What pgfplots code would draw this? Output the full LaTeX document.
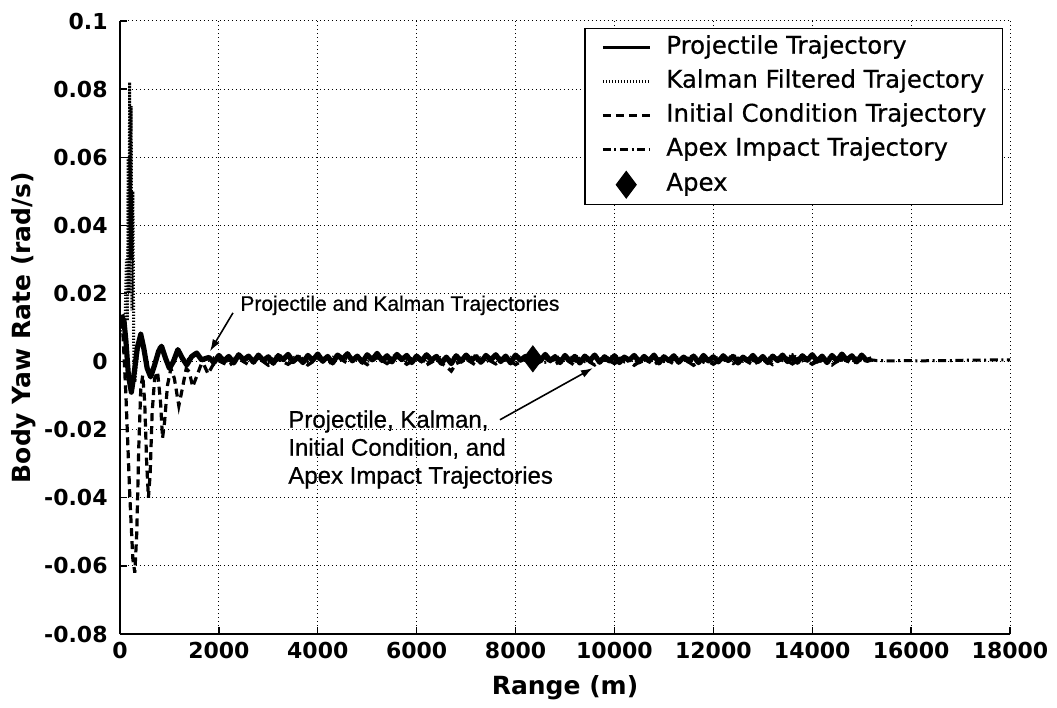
\documentclass[border=0pt]{standalone}
\usepackage{fontspec}
\setmainfont{DejaVu Sans}
\newfontfamily\legfamily[FakeBold=0.6]{DejaVu Sans}
\newfontfamily\annfont[FakeBold=0.6]{Liberation Sans}
\usepackage{pgfplots}
\pgfplotsset{compat=1.18}
\usetikzlibrary{arrows.meta}

\newcommand\tickfont{\fontsize{11bp}{13bp}\selectfont\bfseries}
\newcommand\labfont{\fontsize{12.5bp}{15bp}\selectfont\bfseries}
\newcommand\legfont{\legfamily\fontsize{12.2bp}{14bp}\selectfont}
\newcommand\noteonefont{\annfont\fontsize{10.5bp}{14bp}\selectfont}
\newcommand\notetwofont{\annfont\fontsize{12bp}{14bp}\selectfont}

% legend sample showing a single centred mark
\pgfplotsset{mark legend/.style={legend image code/.code={\draw[##1] plot coordinates {(11.75bp,0bp)};}}}
% legend sample drawn thinner than the plotted line
\pgfplotsset{thin legend/.style={legend image code/.code={\draw[##1, line width=1.5bp] (0bp,0bp) -- (23.5bp,0bp);}}}

\begin{document}
\begin{tikzpicture}
\begin{axis}[
  at={(0,0)}, anchor=south west,
  scale only axis, width=445bp, height=306.5bp,
  xmin=0, xmax=18000, ymin=-0.08, ymax=0.1,
  axis x line*=bottom, axis y line*=left,
  axis line style={-, line width=0.9bp, black},
  scaled x ticks=false, scaled y ticks=false,
  xtick={0,2000,...,18000},
  xticklabels={0,2000,4000,6000,8000,10000,12000,14000,16000,18000},
  ytick={-0.08,-0.06,-0.04,-0.02,0,0.02,0.04,0.06,0.08,0.1},
  yticklabels={-0.08,-0.06,-0.04,-0.02,0,0.02,0.04,0.06,0.08,0.1},
  ticklabel style={font=\tickfont, inner sep=0pt},
  xticklabel shift=4bp, yticklabel shift=6bp,
  tick align=inside, major tick length=3.5bp,
  tick style={black, line width=0.7bp},
  grid=major,
  major grid style={black, line width=0.5bp, dash pattern=on 0.5bp off 1.5bp},
  xlabel={Range (m)}, ylabel={Body Yaw Rate (rad/s)},
  xlabel style={font=\labfont, at={(axis description cs:0.5,0)}, anchor=center, yshift=-27bp},
  ylabel style={font=\labfont, at={(axis description cs:-0.108,0.5)}, anchor=center},
  legend style={at={(1,1)}, anchor=north east, xshift=-3.5bp, yshift=-3.5bp,
    draw=black, line width=0.7bp, fill=white, font=\legfont,
    inner xsep=8bp, inner ysep=3.5bp, row sep=5bp, column sep=7.5bp,
    nodes={inner sep=0pt, text height=9bp, text depth=3bp}},
  legend cell align=left,
  legend image code/.code={\draw[#1] (0bp,0bp) -- (23.5bp,0bp);},
]

% projectile trajectory
\addplot[black, line width=2.6bp, line join=round, thin legend] coordinates {
(0,0.010) (40,0.013) (80,0.012) (120,0.006) (170,-0.004) (230,-0.009) (290,-0.003)
(350,0.004) (420,0.008) (480,0.004) (550,-0.002) (620,-0.0045) (700,-0.001)
(780,0.003) (840,0.0045) (920,0.001) (1000,-0.002) (1080,0.0) (1170,0.0035)
(1260,0.001) (1350,-0.001) (1450,0.0015) (1550,0.0025) (1650,0.0005) (1750,0.001)
(1800,0.0012) (1900,-0.0003) (2000,0.0018) (2100,0.0002) (2200,0.0015) (2300,-0.0004)
(2400,0.0020) (2500,0.0005) (2600,0.0016) (2700,-0.0002) (2800,0.0019) (2900,0.0003)
(3000,0.0014) (3100,-0.0005) (3200,0.0017) (3300,0.0006) (3400,0.0021) (3500,0.0000)
(3600,0.0013) (3700,-0.0003) (3800,0.0018) (3900,0.0004) (4000,0.0022) (4100,0.0001)
(4200,0.0015) (4300,-0.0004) (4400,0.0019) (4500,0.0007) (4600,0.0023) (4700,0.0002)
(4800,0.0016) (4900,-0.0002) (5000,0.0020) (5100,0.0005) (5200,0.0024) (5300,0.0003)
(5400,0.0017) (5500,-0.0001) (5600,0.0021) (5700,0.0006) (5800,0.0018) (5900,-0.0003)
(6000,0.0016) (6100,0.0002) (6200,0.0020) (6300,0.0004) (6400,0.0015) (6500,-0.0005)
(6600,0.0013) (6700,-0.0006) (6800,0.0017) (6900,0.0001) (7000,0.0019) (7100,0.0003)
(7200,0.0014) (7300,-0.0002) (7400,0.0018) (7500,0.0005) (7600,0.0020) (7700,0.0000)
(7800,0.0016) (7900,-0.0004) (8000,0.0019) (8100,0.0004) (8200,0.0015) (8300,-0.0001)
(8400,0.0017) (8500,0.0002) (8600,0.0021) (8700,0.0003) (8800,0.0014) (8900,-0.0003)
(9000,0.0018) (9100,0.0001) (9200,0.0015) (9300,-0.0004) (9400,0.0016) (9500,0.0003)
(9600,0.0019) (9700,-0.0002) (9800,0.0014) (9900,0.0002) (10000,0.0017) (10100,-0.0003)
(10200,0.0013) (10300,0.0004) (10400,0.0018) (10500,-0.0001) (10600,0.0015) (10700,0.0002)
(10800,0.0019) (10900,-0.0004) (11000,0.0014) (11100,0.0003) (11200,0.0017) (11300,-0.0002)
(11400,0.0013) (11500,0.0001) (11600,0.0016) (11700,-0.0003) (11800,0.0018) (11900,0.0002)
(12000,0.0014) (12100,-0.0001) (12200,0.0017) (12300,0.0003) (12400,0.0015) (12500,-0.0004)
(12600,0.0013) (12700,0.0002) (12800,0.0018) (12900,0.0000) (13000,0.0015) (13100,-0.0003)
(13200,0.0016) (13300,0.0003) (13400,0.0019) (13500,0.0000) (13600,0.0014) (13700,-0.0002)
(13800,0.0017) (13900,0.0004) (14000,0.0020) (14100,0.0001) (14200,0.0016) (14300,-0.0003)
(14400,0.0018) (14500,0.0002) (14600,0.0022) (14700,0.0004) (14800,0.0017) (14900,-0.0001)
(15000,0.0019) (15100,0.0003) (15200,0.0008)
};
\addlegendentry{Projectile Trajectory}

% Kalman filtered trajectory
\addplot[black, line width=1.5bp, dash pattern=on 0.6bp off 0.9bp] coordinates {
(0,0.008) (60,0.014) (100,0.010) (130,0.030) (150,0.012) (165,0.060) (180,0.020)
(195,0.082) (210,0.030) (225,0.075) (240,0.015) (260,0.050) (280,0.000) (300,-0.006)
(360,0.003) (420,0.007) (490,0.003) (560,-0.003) (630,-0.004) (710,0.000) (790,0.004)
(860,0.004) (940,0.000) (1020,-0.0015) (1100,0.001) (1190,0.003) (1300,0.000)
(1420,0.001) (1560,0.0022) (1680,0.0004) (1800,0.0008) (2000,0.0015) (2200,-0.0002)
(2400,0.0019) (2600,0.0004) (2800,0.0016) (3000,-0.0003) (3200,0.0020) (3400,0.0005)
(3600,0.0017) (3800,0.0000) (4000,0.0018) (4200,0.0003) (4400,0.0021) (4600,0.0006)
(4800,0.0015) (5000,-0.0001) (5200,0.0019) (5400,0.0004) (5600,0.0022) (5800,0.0002)
(6000,0.0016) (6200,-0.0002) (6400,0.0018) (6600,0.0001) (6800,0.0015) (7000,0.0003)
(7200,0.0019) (7400,-0.0001) (7600,0.0016) (7800,0.0004) (8000,0.0020) (8200,0.0002)
(8400,0.0015) (8600,-0.0002) (8800,0.0017) (9000,0.0003) (9200,0.0018) (9400,0.0000)
(9600,0.0015) (9800,0.0004) (10000,0.0019) (10200,-0.0001) (10400,0.0016) (10600,0.0003)
(10800,0.0017) (11000,0.0000) (11200,0.0015) (11400,0.0004) (11600,0.0018) (11800,-0.0002)
(12000,0.0016) (12200,0.0002) (12400,0.0019) (12600,0.0001) (12800,0.0015) (13000,-0.0001)
(13200,0.0017) (13400,0.0003) (13600,0.0020) (13800,0.0002) (14000,0.0016) (14200,-0.0001)
(14400,0.0018) (14600,0.0004) (14800,0.0017) (15000,0.0002) (15200,0.0009)
};
\addlegendentry{Kalman Filtered Trajectory\hspace{3.5bp}}

% initial condition trajectory
\addplot[black, line width=1.6bp, dash pattern=on 4bp off 2.5bp] coordinates {
(0,0.012) (60,0.008) (120,-0.010) (200,-0.040) (260,-0.058) (300,-0.062) (340,-0.050)
(380,-0.025) (420,-0.008) (460,-0.004) (500,-0.012) (540,-0.030) (575,-0.040)
(610,-0.033) (650,-0.015) (700,-0.005) (760,-0.003) (820,-0.012) (860,-0.0225)
(900,-0.018) (960,-0.007) (1030,-0.002) (1100,-0.005) (1190,-0.013) (1260,-0.008)
(1340,-0.002) (1400,-0.003) (1470,-0.0074) (1560,-0.004) (1650,-0.0005) (1700,-0.001)
(1780,-0.0036) (1880,-0.001) (2000,0.0002) (2200,-0.0012) (2400,0.0008) (2600,-0.0009)
(2800,0.0010) (3000,-0.0011) (3200,0.0006) (3400,-0.0008) (3600,0.0011) (3800,-0.0010)
(4000,0.0009) (4200,-0.0007) (4400,0.0013) (4600,-0.0005) (4800,0.0010) (5000,-0.0009)
(5200,0.0012) (5400,-0.0006) (5600,0.0014) (5800,-0.0008) (6000,0.0009) (6200,-0.0010)
(6400,0.0006) (6600,-0.0015) (6700,-0.0028) (6800,-0.0006) (7000,0.0007) (7200,-0.0011)
(7400,0.0009) (7600,-0.0007) (7800,0.0011) (8000,-0.0009) (8200,0.0008) (8400,-0.0010)
(8600,0.0010) (8800,-0.0008) (9000,0.0009) (9200,-0.0012) (9400,0.0007) (9600,-0.0010)
(9800,0.0010) (10000,-0.0006) (10200,0.0009) (10400,-0.0011) (10600,0.0008) (10800,-0.0009)
(11000,0.0010) (11200,-0.0007) (11400,0.0008) (11600,-0.0011) (11800,0.0009) (12000,-0.0008)
(12200,0.0011) (12400,-0.0006) (12600,0.0008) (12800,-0.0010) (13000,0.0009) (13200,-0.0009)
(13400,0.0010) (13600,-0.0007) (13800,0.0012) (14000,-0.0008) (14200,0.0009) (14400,-0.0010)
(14600,0.0011) (14800,-0.0006) (15000,0.0008) (15200,0.0003)
};
\addlegendentry{Initial Condition Trajectory}

% apex impact trajectory
\addplot[black, line width=1.5bp, dash pattern=on 4bp off 1.8bp on 1bp off 1.8bp] coordinates {
(8400,0.0008) (8700,0.0002) (9000,0.0012) (9300,-0.0003) (9600,0.0010) (9900,0.0001)
(10200,0.0013) (10500,-0.0002) (10800,0.0009) (11100,0.0002) (11400,0.0012) (11700,-0.0003)
(12000,0.0010) (12300,0.0003) (12600,0.0011) (12900,-0.0001) (13200,0.0010) (13500,0.0002)
(13800,0.0012) (14100,0.0000) (14400,0.0011) (14700,0.0003) (15000,0.0009) (15300,0.0003)
(15600,0.0002) (15900,0.0003) (16200,0.0002) (16500,0.0003) (16800,0.0003) (17100,0.0004)
(17400,0.0004) (17700,0.0005) (18000,0.0005)
};
\addlegendentry{Apex Impact Trajectory}

% apex point
\addplot[only marks, mark=diamond*, mark size=6.5bp, black, mark legend]
  coordinates {(8350,0.0008)};
\addlegendentry{Apex}

% annotations
\node[anchor=base west, inner sep=0pt, font=\noteonefont] at (axis cs:2427,0.0149)
  {Projectile and Kalman Trajectories};
\draw[black, line width=0.8bp, -{Latex[length=6bp,width=4bp]}]
  (axis cs:2285,0.0143) -- (axis cs:1820,0.0030);
\node[anchor=north west, inner sep=0pt, align=left, font=\notetwofont] at (axis cs:3397,-0.0142)
  {Projectile, Kalman,\\Initial Condition, and\\Apex Impact Trajectories};
\draw[black, line width=0.8bp, -{Latex[length=6bp,width=4bp]}]
  (axis cs:7684,-0.0171) -- (axis cs:9565,-0.0019);
\end{axis}
\pgfresetboundingbox
\path[use as bounding box] (-60bp,-37bp) rectangle (468.5bp,317bp);
\end{tikzpicture}
\end{document}
